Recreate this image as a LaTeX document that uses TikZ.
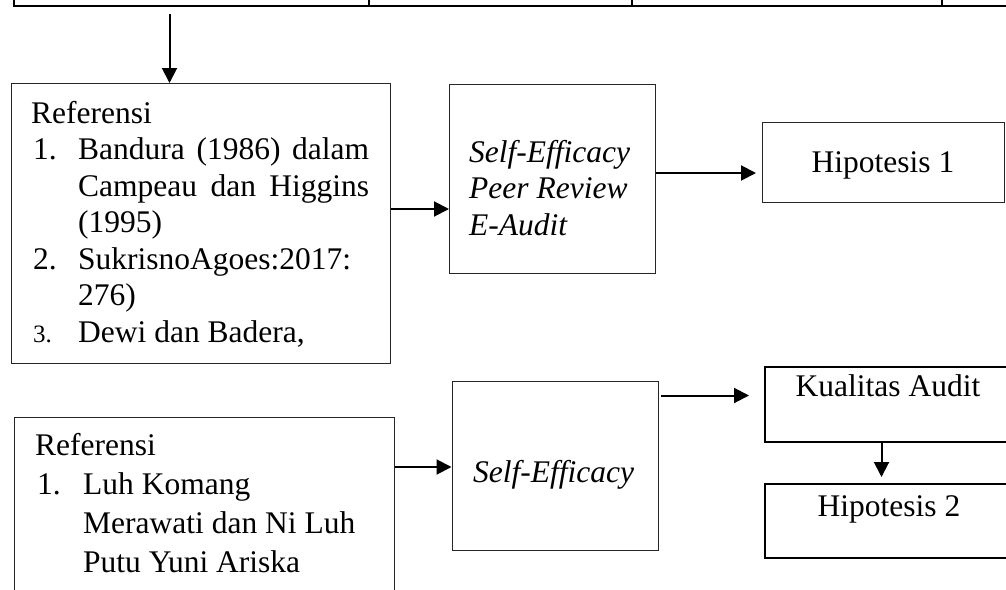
\documentclass[tikz,border=0pt]{standalone}
\usepackage{fontspec}
\setmainfont{Liberation Serif}
\usetikzlibrary{arrows.meta}
\newcommand{\bigtxt}{\fontsize{31.5pt}{36pt}\selectfont}
\newcommand{\smalltxt}{\fontsize{25pt}{30pt}\selectfont}
\tikzset{
  thinbox/.style={draw=black!85, line width=1.3pt, inner sep=0pt, anchor=north west},
  thickbox/.style={draw=black, line width=2.2pt, inner sep=0pt, anchor=north west},
  arr/.style={line width=2pt, -{Triangle[length=15pt,width=15pt]}},
  txt/.style={anchor=base west, inner sep=0pt, font=\bigtxt},
  ctxt/.style={anchor=base, inner sep=0pt, font=\bigtxt},
  itxt/.style={anchor=base west, inner sep=0pt, font=\bigtxt\itshape},
}
\begin{document}
\begin{tikzpicture}[x=1pt, y=-1pt]
\useasboundingbox (0,0) rectangle (1006,589);
\clip (0,0) rectangle (1006,589);
\fill[white] (0,0) rectangle (1006,589);

% top table edge
\draw[line width=2.2pt] (14,6) -- (1012,6);
\draw[line width=2.2pt] (14,-2) -- (14,7.1);
\foreach \x in {369,632,942} \draw[line width=1.3pt] (\x,-2) -- (\x,6);

% boxes
\node[thinbox, minimum width=379pt, minimum height=280pt] (b1) at (11,83) {};
\node[thinbox, minimum width=206pt, minimum height=189pt] (b2) at (449,84) {};
\node[thinbox, minimum width=242pt, minimum height=80pt] (h1) at (762,122) {};
\node[thinbox, minimum width=380pt, minimum height=200pt] (b3) at (14,417) {};
\node[thinbox, minimum width=206.5pt, minimum height=169pt] (se) at (451.5,381) {};
\node[thickbox, minimum width=260pt, minimum height=75pt] (ka) at (764,366) {};
\node[thickbox, minimum width=260pt, minimum height=74pt] (h2) at (764,483) {};

% texts box 1
\node[txt] (r1) at (31,123) {Referensi};
\node[txt] (n1) at (33,159.5) {1.};
\node[txt] (l1) at (78,159.5) {\makebox[291pt][s]{Bandura (1986) dalam}};
\node[txt] (l2) at (78,196) {\makebox[291pt][s]{Campeau dan Higgins}};
\node[txt] (l3) at (78,232.5) {(1995)};
\node[txt] (n2) at (33,269) {2.};
\node[txt] (l4) at (78,269) {SukrisnoAgoes:2017:};
\node[txt] (l5) at (78,305.5) {276)};
\node[anchor=base west, inner sep=0pt, font=\smalltxt] (n3) at (33,342) {3.};
\node[txt] (l6) at (78,342) {Dewi dan Badera,};

% texts box 2
\node[itxt] (s1) at (469,162) {Self-Efficacy};
\node[itxt] (s2) at (469,198) {Peer Review};
\node[itxt] (s3) at (469,235) {E-Audit};

% hipotesis 1
\node[ctxt] (h1t) at (883,172) {Hipotesis 1};

% texts box 3
\node[txt] (r2) at (35,455) {Referensi};
\node[txt] (m0) at (37,494) {1.};
\node[txt] (m1) at (83,494) {Luh Komang};
\node[txt] (m2) at (83,533) {Merawati dan Ni Luh};
\node[txt] (m3) at (83,572) {Putu Yuni Ariska};

% self efficacy bottom
\node[itxt] (set) at (473,482) {Self-Efficacy};

% kualitas / hipotesis 2
\node[ctxt] (kat) at (888,396) {Kualitas Audit};
\node[ctxt] (h2t) at (889,516) {Hipotesis 2};

% connectors
\coordinate (t0) at (169.5,14);
\draw[arr] (t0) -- (t0 |- b1.north);

\coordinate (y1) at (0,209);
\draw[arr] (b1.east |- y1) -- (b2.west |- y1);

\coordinate (y2) at (0,173);
\draw[arr, shorten >=6pt] (b2.east |- y2) -- (h1.west |- y2);

\coordinate (y3) at (0,467);
\draw[arr] (b3.east |- y3) -- (se.west |- y3);

\coordinate (y4) at (0,395.5);
\draw[arr, shorten <=2pt, shorten >=15pt] (se.east |- y4) -- (ka.west |- y4);

\coordinate (x5) at (881.5,0);
\draw[arr, shorten >=6pt] (ka.south -| x5) -- (h2.north -| x5);
\end{tikzpicture}
\end{document}
